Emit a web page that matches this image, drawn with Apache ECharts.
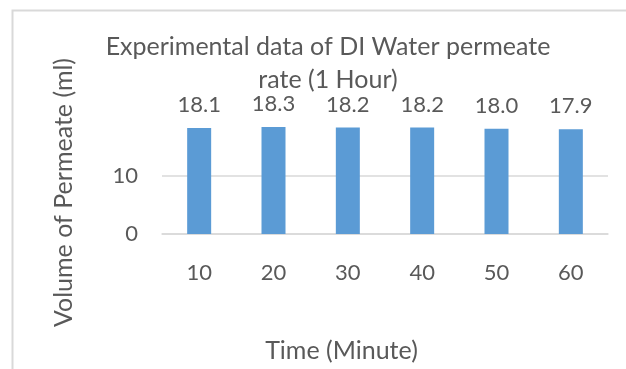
<!DOCTYPE html>
<html>
<head>
<meta charset="utf-8">
<script src="https://cdn.jsdelivr.net/npm/echarts@6/dist/echarts.min.js"></script>
<style>html,body{margin:0;padding:0;background:#fff;}#c{width:626px;height:369px;}</style>
</head>
<body>
<div id="c"></div>
<script>
var categories = ['10', '20', '30', '40', '50', '60'];
var permeateVolume = [18.1, 18.3, 18.2, 18.2, 18.0, 17.9];
var yTicks = [0, 10, 20];

var FONT = 'Lato';
var TXT = '#595959';
var chart = echarts.init(document.getElementById('c'));
chart.setOption({
  backgroundColor: '#fff',
  animation: false,
  graphic: [{
    type: 'rect', left: 10, top: 8,
    shape: { width: 700, height: 500 },
    style: { fill: 'none', stroke: '#d9d9d9', lineWidth: 2 }
  }],
  title: {
    text: 'Experimental data of DI Water permeate\nrate (1 Hour)',
    left: 323, top: 25, textAlign: 'center',
    textStyle: { fontFamily: FONT, fontSize: 25, fontWeight: 'normal', color: TXT, lineHeight: 33 }
  },
  grid: { left: 162, right: 18, top: 117, bottom: 135 },
  xAxis: {
    type: 'category', data: categories,
    name: 'Time (Minute)', nameLocation: 'middle', nameGap: 104,
    nameTextStyle: { fontFamily: FONT, fontSize: 25, color: TXT, padding: [0, 87, 0, 0] },
    axisLine: { lineStyle: { color: '#d9d9d9', width: 1.5 } },
    axisTick: { show: false },
    axisLabel: { fontFamily: FONT, fontSize: 22, color: TXT, margin: 28 }
  },
  yAxis: {
    type: 'value', min: yTicks[0], max: yTicks[yTicks.length - 1], interval: 10,
    name: 'Volume of Permeate (ml)', nameLocation: 'middle', nameGap: 86,
    nameTextStyle: { fontFamily: FONT, fontSize: 25, color: TXT, padding: [0, 34, 0, 0] },
    axisLine: { show: false }, axisTick: { show: false },
    axisLabel: { fontFamily: FONT, fontSize: 22, color: TXT, margin: 24, showMaxLabel: false },
    splitLine: { lineStyle: { color: ['#d9d9d9', '#d9d9d9', 'rgba(0,0,0,0)'], width: 1.5 } }
  },
  series: [{
    type: 'bar', data: permeateVolume, barWidth: 24,
    itemStyle: { color: '#5b9bd5' },
    label: {
      show: true, position: 'top', distance: 12,
      fontFamily: FONT, fontSize: 22, color: TXT,
      formatter: function (p) { return p.value.toFixed(1); }
    }
  }]
});
</script>
</body>
</html>
